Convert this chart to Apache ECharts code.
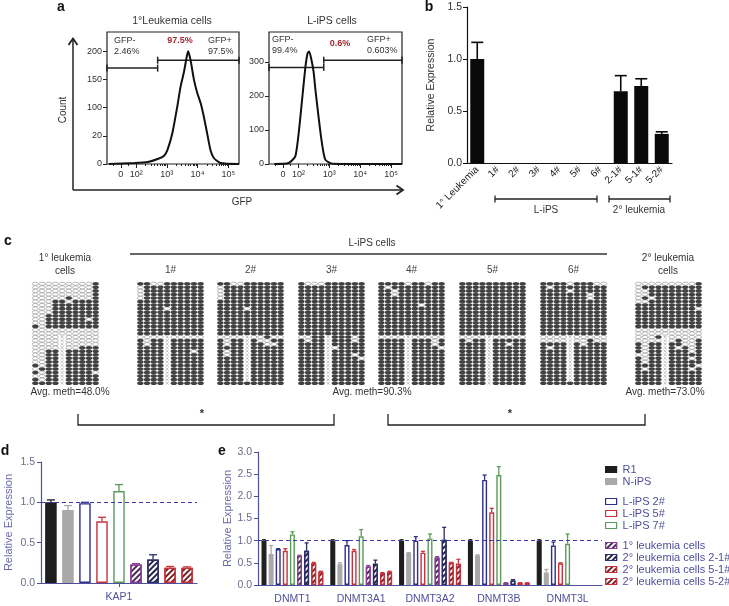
<!DOCTYPE html>
<html><head><meta charset="utf-8">
<script src="https://cdn.jsdelivr.net/npm/echarts@6/dist/echarts.min.js"></script>
<style>html,body{margin:0;padding:0;background:#fff}#c{width:729px;height:606px}</style>
</head><body><div id="c"></div>
<script>
// ---------------- DATA ----------------
// Panel a: flow cytometry histograms, [x in decade units, count]
const aTickVals = [1.5, 2, 3, 4, 5];
const aTickLabels = ['0', '10²', '10³', '10⁴', '10⁵'];
const aLeftYTicks = [0, 50, 100, 150, 200];
const aLeftYLabels = ['0', '20', '100', '150', '200'];
const aRightYTicks = [0, 100, 200, 300];
const gfpLeukemia = [[1.11,0],[1.95,1.8],[2.38,3.6],[2.70,8.9],[2.91,14.8],[3.02,25],[3.18,55],[3.34,102],[3.45,138],[3.56,164],[3.63,185],[3.69,200],[3.77,185],[3.88,150],[3.99,126],[4.10,108],[4.20,85],[4.31,55],[4.42,25],[4.53,10.6],[4.74,1.8],[5.35,0]];
const gfpIPS = [[1.22,0],[1.69,3],[1.90,22.5],[2.01,91],[2.12,189],[2.23,287],[2.30,326],[2.35,331],[2.42,307],[2.49,272],[2.55,219],[2.65,140],[2.76,62],[2.87,13],[3.09,1],[5.35,0]];
const gatesLeukemia = [[1.05, 2.70, 170], [2.70, 5.35, 184]];
const gatesIPS = [[1.05, 2.82, 284], [2.82, 5.35, 305]];

// Panel b
const bCategories = ['1° Leukemia','1#','2#','3#','4#','5#','6#','2-1#','5-1#','5-2#'];
const bValues = [1.0, 0, 0, 0, 0, 0, 0, 0.69, 0.74, 0.28];
const bErrors = [0.16, 0, 0, 0, 0, 0, 0, 0.15, 0.07, 0.02];

// Panel c: bisulfite methylation grids ('1' methylated, '0' unmethylated, 'x' missing)
const methLeuk1 = ["0000000001","0000000001","0000000001","0000000001","0000010001","0001101111","0001111111","0001111111","0001111111","0011111111","0011111101","0011111111","1011111111","0000000000","0000000000","0000x00000","0000x00000","0000x00000","0000x00111","0011x11111","0011x11111","0011x11111","0011x11111","1011x11111","0111x11111","1011x11110","0011x11111","1011x11111","1111x11111"];
const methIPS1 = ["1100111111","0111111111","0111111111","0111111111","0111111111","1111111111","1111111111","1111011111","1111111111","1111111111","1111111111","1111111111","1111111111","1111111111","1111111111","0000x00000","1011x11111","1011x11111","1111x11111","1111x11101","1111x11111","1111x11111","1111x11111","1111x11111","1111x11111","1111x11111","1111x11111","1111x11111","1111x11111"];
const methIPS2 = ["1100111111","0111111111","0111111111","0111111111","0111111111","1111111111","1111111111","1111011111","1111111111","1111111111","1111111111","1111111111","1111111111","1111111111","1111111111","0000x00100","1011x10011","1011x11001","1111x11111","1011x11111","1011x11111","1111x11111","1111x11111","1111x11111","1111x11111","1111x11111","1111x11111","1111x11111","1111111111"];
const methIPS3 = ["1000111111","1111111111","1111111111","1111111111","1111111111","1111111111","1111111111","1111111111","1111111111","1111111111","1111111111","1111111111","1111111111","1111111111","1111111111","0011x11101","1011x11101","1111x11111","1111x01111","1111x11111","1111x11101","1111x11110","1111x11111","1111x11111","1111x11111","1111x11111","1111x11111","1111x11111","1111x11111"];
const methIPS4 = ["1111011011","1011111111","1101111111","1101111111","1111111111","1111111111","1111110111","1111111111","1111111111","1111111111","1111111111","1111111111","1111111111","1111111111","1111111111","0000x00000","1111x11101","1111x11101","1111x11110","1111x11111","1111x11111","1111x11111","1111x11111","1111x11111","1111x11111","1111x11111","1111x11111","1111x11111","1111x11111"];
const methIPS5 = ["1111111111","1111111111","1111111111","1111111111","1111111111","1111111111","1111111111","1111111111","1111111111","1111111111","1111111111","1111111111","1111111111","1111111111","1111111111","0000x00000","1011x11111","1111x11011","1111x11111","1111x11111","1111x11111","1111x11111","1111x11111","1111x11111","1111x11111","1111x11111","1111x11111","1111x11111","1111x11111"];
const methIPS6 = ["1111011100","1011111111","1111011111","1111111011","1111111011","1111111111","1111111111","1111111111","1111111111","1111111111","1111111111","1111111111","1111111111","1111111111","1111111111","0000x00000","0000x00100","1111x10111","1011x11111","1111x11111","1111x11111","1111x11111","1111x11111","1111x11111","1111x11111","1111x11111","1111x11111","1111x11111","1111111111"];
const methLeuk2 = ["0000000001","0111111111","0011111111","0011111111","0101111111","0011111111","1111111111","1111111110","1111111111","1111111111","1111111111","1111111111","1111111111","0000000000","0000000000","0001x00000","0000x01001","1011x11001","1011x10101","1011x11101","0011x11111","1011x11101","1011x11111","1111x11110","1011x11101","1111x11111","1111x11111","1111x11111","1111x11111"];
const cTitles = ['1#', '2#', '3#', '4#', '5#', '6#'];
const avgMeth = ['Avg. meth=48.0%', 'Avg. meth=90.3%', 'Avg. meth=73.0%'];

// Panels d and e
const exprSeriesNames = ['R1','N-iPS','L-iPS 2#','L-iPS 5#','L-iPS 7#','1° leukemia cells','2° leukemia cells 2-1#','2° leukemia cells 5-1#','2° leukemia cells 5-2#'];
const dCategories = ['KAP1'];
const kap1Values = [1.0, 0.905, 0.99, 0.765, 1.14, 0.23, 0.29, 0.19, 0.19];
const kap1Errors = [0.03, 0.055, 0.01, 0.05, 0.08, 0.01, 0.06, 0.015, 0.01];
const eCategories = ['DNMT1','DNMT3A1','DNMT3A2','DNMT3B','DNMT3L'];
const eR1      = [1.0, 1.0, 1.0, 1.0, 1.0];
const eNiPS    = [0.70, 0.47, 0.72, 0.67, 0.28];
const eLiPS2   = [0.81, 0.90, 1.00, 2.37, 0.89];
const eLiPS5   = [0.77, 0.77, 0.73, 1.64, 0.49];
const eLiPS7   = [1.14, 1.10, 1.05, 2.48, 0.93];
const eLeuk1   = [0.66, 0.42, 0.62, 0.05, null];
const eLeuk21  = [0.77, 0.48, 1.02, 0.10, null];
const eLeuk51  = [0.49, 0.27, 0.50, 0.05, null];
const eLeuk52  = [0.30, 0.30, 0.48, 0.05, null];
const eR1Err     = [0.02, 0.02, 0.02, 0.02, 0.02];
const eNiPSErr   = [0.19, 0.03, 0.01, 0.01, 0.07];
const eLiPS2Err  = [0.01, 0.10, 0.09, 0.11, 0.08];
const eLiPS5Err  = [0.05, 0.03, 0.03, 0.09, 0.01];
const eLiPS7Err  = [0.06, 0.15, 0.10, 0.19, 0.22];
const eLeuk1Err  = [0.01, 0.02, 0.02, 0.0, null];
const eLeuk21Err = [0.18, 0.08, 0.28, 0.02, null];
const eLeuk51Err = [0.02, 0.01, 0.01, 0.0, null];
const eLeuk52Err = [0.01, 0.01, 0.10, 0.0, null];

// ---------------- STYLE / LAYOUT ----------------
const FONT = '"Liberation Sans", Arial, Helvetica, sans-serif';
const exprStyles = [
  {kind:'solid', color:'#1e1e1e'},
  {kind:'solid', color:'#a9a9a9'},
  {kind:'hollow', color:'#2e2e8e'},
  {kind:'hollow', color:'#c8323c'},
  {kind:'hollow', color:'#5c9a5c'},
  {kind:'hatch', color:'#8a3c96', hatch:'#4a2a5a'},
  {kind:'hatch', color:'#2c2c66', hatch:'#24244a'},
  {kind:'hatch', color:'#c8323c', hatch:'#7a2026'},
  {kind:'hatch', color:'#c8323c', hatch:'#7a2026'}
];
const eValues = [eR1, eNiPS, eLiPS2, eLiPS5, eLiPS7, eLeuk1, eLeuk21, eLeuk51, eLeuk52];
const eErrors = [eR1Err, eNiPSErr, eLiPS2Err, eLiPS5Err, eLiPS7Err, eLeuk1Err, eLeuk21Err, eLeuk51Err, eLeuk52Err];
const methGrids = [methLeuk1, methIPS1, methIPS2, methIPS3, methIPS4, methIPS5, methIPS6, methLeuk2];
const cLefts = [32, 137, 217, 298, 378, 459, 540, 635];
const AXC = '#4f4f9c', LBC = '#6c6c8c';

const grids = [], xAxes = [], yAxes = [], series = [];
function addGrid(g) { g.outerBoundsMode = 'none'; grids.push(g); return grids.length - 1; }

// ---- Panel a ----
function flowPanel(left, width, yMax, yTicks, yLabels, hist, gates) {
  const gi = addGrid({left: left, top: 32, width: width, height: 132, show: true, borderColor: '#222', borderWidth: 1.2, backgroundColor: 'transparent'});
  const xi = xAxes.length;
  xAxes.push({gridIndex: gi, type: 'value', min: 1.05, max: 5.35, position: 'bottom',
    axisLine: {show: false}, splitLine: {show: false},
    axisTick: {show: true, customValues: aTickVals, length: 4, lineStyle: {color: '#222'}},
    axisLabel: {customValues: aTickVals, formatter: v => aTickLabels[aTickVals.indexOf(v)], fontSize: 9, color: '#333', fontFamily: FONT, margin: 6}});
  const minor = [];
  for (let d = 2; d < 5; d++) for (let k = 2; k <= 9; k++) minor.push(d + Math.log10(k));
  minor.push(1.25, 1.75);
  xAxes.push({gridIndex: gi, type: 'value', min: 1.05, max: 5.35, position: 'bottom',
    axisLine: {show: false}, splitLine: {show: false},
    axisTick: {show: true, customValues: minor, length: 2, lineStyle: {color: '#222'}},
    axisLabel: {show: false}});
  const yi = yAxes.length;
  yAxes.push({gridIndex: gi, type: 'value', min: 0, max: yMax,
    axisLine: {show: false}, splitLine: {show: false},
    axisTick: {show: true, customValues: yTicks, length: 4, lineStyle: {color: '#222'}},
    axisLabel: {customValues: yTicks, formatter: v => yLabels[yTicks.indexOf(v)], fontSize: 9, color: '#333', fontFamily: FONT, margin: 5}});
  series.push({type: 'line', xAxisIndex: xi, yAxisIndex: yi, data: hist, symbol: 'none', smooth: 0.2,
    lineStyle: {color: '#111', width: 2}, silent: true, animation: false});
  series.push({type: 'custom', xAxisIndex: xi, yAxisIndex: yi, data: gates, encode: {x: [0, 1], y: 2}, clip: false, silent: true, animation: false,
    renderItem: function (params, api) {
      const p0 = api.coord([api.value(0), api.value(2)]);
      const p1 = api.coord([api.value(1), api.value(2)]);
      const st = {stroke: '#222', lineWidth: 1.5};
      return {type: 'group', children: [
        {type: 'line', shape: {x1: p0[0], y1: p0[1], x2: p1[0], y2: p1[1]}, style: st},
        {type: 'line', shape: {x1: p0[0], y1: p0[1] - 3.5, x2: p0[0], y2: p0[1] + 3.5}, style: st},
        {type: 'line', shape: {x1: p1[0], y1: p1[1] - 3.5, x2: p1[0], y2: p1[1] + 3.5}, style: st}
      ]};
    }});
}
flowPanel(107, 132, 234, aLeftYTicks, aLeftYLabels, gfpLeukemia, gatesLeukemia);
flowPanel(269, 133, 388, aRightYTicks, aRightYTicks.map(String), gfpIPS, gatesIPS);

// ---- Panel b ----
(function () {
  const gi = addGrid({left: 467, top: 7, width: 205, height: 156});
  const xi = xAxes.length, yi = yAxes.length;
  xAxes.push({gridIndex: gi, type: 'category', data: bCategories,
    axisLine: {lineStyle: {color: '#111', width: 1.2}},
    axisTick: {alignWithLabel: true, length: 3, lineStyle: {color: '#111'}},
    axisLabel: {rotate: 45, interval: 0, fontSize: 10, color: '#222', fontFamily: FONT, margin: 5}});
  yAxes.push({gridIndex: gi, type: 'value', min: 0, max: 1.5, interval: 0.5,
    name: 'Relative Expression', nameLocation: 'middle', nameGap: 30, nameRotate: 90,
    nameTextStyle: {fontSize: 10.5, color: '#333', fontFamily: FONT},
    axisLine: {show: true, lineStyle: {color: '#111', width: 1.2}},
    axisTick: {show: true, length: 4, lineStyle: {color: '#111'}},
    splitLine: {show: false},
    axisLabel: {formatter: v => v.toFixed(1), fontSize: 10.5, color: '#333', fontFamily: FONT, margin: 5}});
  series.push({type: 'bar', xAxisIndex: xi, yAxisIndex: yi, data: bValues, barWidth: 14,
    itemStyle: {color: '#0a0a0a'}, silent: true, animation: false});
  series.push({type: 'custom', xAxisIndex: xi, yAxisIndex: yi, silent: true, animation: false,
    data: bValues.map((v, i) => [i, v, v + bErrors[i]]).filter((d, i) => bErrors[i] > 0),
    encode: {x: 0, y: [1, 2]},
    renderItem: function (params, api) {
      const p0 = api.coord([api.value(0), api.value(1)]);
      const p1 = api.coord([api.value(0), api.value(2)]);
      const st = {stroke: '#0a0a0a', lineWidth: 1.6};
      return {type: 'group', children: [
        {type: 'line', shape: {x1: p0[0], y1: p0[1], x2: p1[0], y2: p1[1]}, style: st},
        {type: 'line', shape: {x1: p1[0] - 6, y1: p1[1], x2: p1[0] + 6, y2: p1[1]}, style: st}
      ]};
    }});
})();

// ---- Panel c ----
methGrids.forEach(function (rows, g) {
  const gi = addGrid({left: cLefts[g], top: 282, width: 67, height: 103});
  const xi = xAxes.length, yi = yAxes.length;
  xAxes.push({gridIndex: gi, type: 'value', min: -0.5, max: 9.5, show: false});
  yAxes.push({gridIndex: gi, type: 'value', min: -0.5, max: rows.length - 0.5, inverse: true, show: false});
  const m = [], u = [], x = [];
  rows.forEach(function (row, r) {
    for (let c = 0; c < row.length; c++) {
      const ch = row[c];
      if (ch === '1') m.push([c, r]); else if (ch === '0') u.push([c, r]); else x.push([c, r]);
    }
  });
  series.push({type: 'scatter', xAxisIndex: xi, yAxisIndex: yi, data: u, symbol: 'circle', symbolSize: [6.0, 3.3],
    itemStyle: {color: '#fff', borderColor: '#8a8a8a', borderWidth: 0.7}, silent: true, animation: false});
  series.push({type: 'scatter', xAxisIndex: xi, yAxisIndex: yi, data: m, symbol: 'circle', symbolSize: [6.4, 3.6],
    itemStyle: {color: '#111'}, silent: true, animation: false});
  series.push({type: 'scatter', xAxisIndex: xi, yAxisIndex: yi, data: x, symbol: 'path://M0,0L10,10M10,0L0,10', symbolSize: [3, 2.6],
    itemStyle: {color: 'none', borderColor: '#999', borderWidth: 0.7}, silent: true, animation: false});
});

// ---- Panels d, e ----
function exprPanel(gridOpt, cats, valuesBySeries, errBySeries, barWidth, barGapPct, yMax, nameGap) {
  const gi = addGrid(gridOpt);
  const xi = xAxes.length, yi = yAxes.length;
  xAxes.push({gridIndex: gi, type: 'category', data: cats,
    axisLine: {lineStyle: {color: AXC, width: 1.2}},
    axisTick: {show: cats.length === 1, alignWithLabel: true, length: 4, lineStyle: {color: AXC}},
    axisLabel: {fontSize: 10.5, color: AXC, fontFamily: FONT, margin: 9}});
  yAxes.push({gridIndex: gi, type: 'value', min: 0, max: yMax, interval: 0.5,
    name: 'Relative Expression', nameLocation: 'middle', nameGap: nameGap, nameRotate: 90,
    nameTextStyle: {fontSize: 11, color: '#6a6aaa', fontFamily: FONT},
    axisLine: {show: true, lineStyle: {color: AXC, width: 1.2}},
    axisTick: {show: true, length: 4, lineStyle: {color: AXC}},
    splitLine: {show: false},
    axisLabel: {formatter: v => v.toFixed(1), fontSize: 10.5, color: LBC, fontFamily: FONT, margin: 6}});
  const pitch = barWidth * (1 + barGapPct / 100);
  const errData = [];
  exprSeriesNames.forEach(function (name, si) {
    const st = exprStyles[si];
    let itemStyle;
    if (st.kind === 'solid') itemStyle = {color: st.color, borderColor: st.color, borderWidth: 1.2};
    else if (st.kind === 'hollow') itemStyle = {color: '#fff', borderColor: st.color, borderWidth: 1.4};
    else itemStyle = {color: '#fff', borderColor: st.color, borderWidth: 1.3,
      decal: {symbol: 'rect', symbolSize: 1, dashArrayX: [1, 0], dashArrayY: [1.5, 2.0], rotation: -Math.PI / 4, color: st.hatch}};
    const s = {type: 'bar', name: name, xAxisIndex: xi, yAxisIndex: yi, data: valuesBySeries[si],
      barWidth: barWidth, barGap: barGapPct + '%', itemStyle: itemStyle, silent: true, animation: false};
    if (si === 0) s.markLine = {silent: true, symbol: 'none', label: {show: false},
      lineStyle: {type: [4, 3], color: '#3a3aa6', width: 1.2}, data: [{yAxis: 1}]};
    series.push(s);
    valuesBySeries[si].forEach(function (v, ci) {
      const e = errBySeries[si][ci];
      if (v != null && e != null) errData.push([ci, si, v, v + e]);
    });
  });
  series.push({type: 'custom', xAxisIndex: xi, yAxisIndex: yi, data: errData, encode: {x: 0, y: [2, 3]},
    silent: true, animation: false, z: 3,
    renderItem: function (params, api) {
      const si = api.value(1);
      const p0 = api.coord([api.value(0), api.value(2)]);
      const p1 = api.coord([api.value(0), api.value(3)]);
      const x = p0[0] + (si - 4) * pitch;
      const col = exprStyles[si].color;
      const cw = Math.max(2, barWidth * 0.35);
      const stl = {stroke: col, lineWidth: 1.3};
      return {type: 'group', children: [
        {type: 'line', shape: {x1: x, y1: p0[1], x2: x, y2: p1[1]}, style: stl},
        {type: 'line', shape: {x1: x - cw, y1: p1[1], x2: x + cw, y2: p1[1]}, style: stl}
      ]};
    }});
}
exprPanel({left: 41, top: 462, width: 156, height: 121}, dCategories,
  kap1Values.map(v => [v]), kap1Errors.map(e => [e]), 11.5, 48, 1.5, 27);
exprPanel({left: 258, top: 452, width: 344, height: 133}, eCategories,
  eValues, eErrors, 5, 42, 3.0, 22);

// ---------------- GRAPHIC ANNOTATIONS ----------------
function txt(x, y, text, o) {
  o = o || {};
  return {type: 'text', x: x, y: y, rotation: o.rot || 0, silent: true, style: {text: text, align: o.align || 'center', verticalAlign: 'middle',
    font: (o.weight || 'normal') + ' ' + (o.size || 10) + 'px ' + FONT, fill: o.color || '#333'}};
}
function pl(points, w, color) {
  return {type: 'polyline', silent: true, shape: {points: points}, style: {stroke: color || '#222', lineWidth: w || 1.3, fill: null}};
}
const RED = '#a32a30';
const graphics = [
  txt(61, 7, 'a', {weight: 'bold', size: 14, color: '#111'}),
  txt(429, 7, 'b', {weight: 'bold', size: 14, color: '#111'}),
  txt(8, 241, 'c', {weight: 'bold', size: 14, color: '#111'}),
  txt(5, 451, 'd', {weight: 'bold', size: 14, color: '#111'}),
  txt(222, 451, 'e', {weight: 'bold', size: 14, color: '#111'}),
  txt(172, 21, '1°Leukemia cells', {size: 10.5}),
  txt(332, 21, 'L-iPS cells', {size: 10.5}),
  txt(114, 41, 'GFP-', {align: 'left', size: 9}),
  txt(114, 52, '2.46%', {align: 'left', size: 9}),
  txt(180, 41, '97.5%', {size: 9, weight: 'bold', color: RED}),
  txt(208, 41, 'GFP+', {align: 'left', size: 9}),
  txt(208, 52, '97.5%', {align: 'left', size: 9}),
  txt(272, 40, 'GFP-', {align: 'left', size: 9}),
  txt(272, 51, '99.4%', {align: 'left', size: 9}),
  txt(340, 44, '0.6%', {size: 9, weight: 'bold', color: RED}),
  txt(367, 40, 'GFP+', {align: 'left', size: 9}),
  txt(367, 51, '0.603%', {align: 'left', size: 9}),
  pl([[73, 190], [73, 39]], 1.5), pl([[68.5, 45], [73, 38.5], [77.5, 45]], 1.8),
  pl([[73, 190], [403, 190]], 1.5), pl([[396.5, 185.5], [403, 190], [396.5, 194.5]], 1.8),
  txt(63, 110, 'Count', {rot: Math.PI / 2, size: 10}),
  txt(242, 202, 'GFP', {size: 10}),
  pl([[495, 199], [597, 199]], 1.3), pl([[495, 195.5], [495, 202.5]], 1.3), pl([[597, 195.5], [597, 202.5]], 1.3),
  txt(546, 210, 'L-iPS', {size: 10}),
  pl([[609, 199], [670, 199]], 1.3), pl([[609, 195.5], [609, 202.5]], 1.3), pl([[670, 195.5], [670, 202.5]], 1.3),
  txt(639, 210, '2° leukemia', {size: 10}),
  txt(372, 243, 'L-iPS cells', {size: 10}),
  pl([[130, 254], [607, 254]], 1.6, '#333'),
  txt(65, 258, '1° leukemia', {size: 10}), txt(65, 271, 'cells', {size: 10}),
  txt(668, 258, '2° leukemia', {size: 10}), txt(668, 271, 'cells', {size: 10}),
  txt(70, 392, avgMeth[0], {size: 10}),
  txt(372, 392, avgMeth[1], {size: 10}),
  txt(665, 392, avgMeth[2], {size: 10}),
  pl([[78, 414], [78, 425], [334, 425], [334, 414]], 1.3),
  pl([[388, 414], [388, 425], [645, 425], [645, 414]], 1.3),
  txt(202, 414, '*', {size: 11, weight: 'bold'}),
  txt(510, 414, '*', {size: 11, weight: 'bold'})
];
for (let g = 1; g <= 6; g++) graphics.push(txt(cLefts[g] + 33.5, 270, cTitles[g - 1], {size: 10, color: '#444'}));

const legendBase = {orient: 'vertical', left: 605, padding: 0, itemWidth: 11, itemHeight: 6, itemGap: 1, icon: 'rect', selectedMode: false,
  itemStyle: {borderWidth: 1.2}, textStyle: {fontSize: 11, color: '#4f4f9c', fontFamily: FONT, padding: [0, 0, 0, 1]}};
const option = {
  animation: false,
  backgroundColor: '#fff',
  textStyle: {fontFamily: FONT},
  grid: grids, xAxis: xAxes, yAxis: yAxes, series: series,
  legend: [
    Object.assign({}, legendBase, {top: 464, data: exprSeriesNames.slice(0, 2)}),
    Object.assign({}, legendBase, {top: 496, data: exprSeriesNames.slice(2, 5)}),
    Object.assign({}, legendBase, {top: 540, data: exprSeriesNames.slice(5)})
  ],
  graphic: graphics
};
const chart = echarts.init(document.getElementById('c'));
chart.setOption(option);
</script></body></html>
